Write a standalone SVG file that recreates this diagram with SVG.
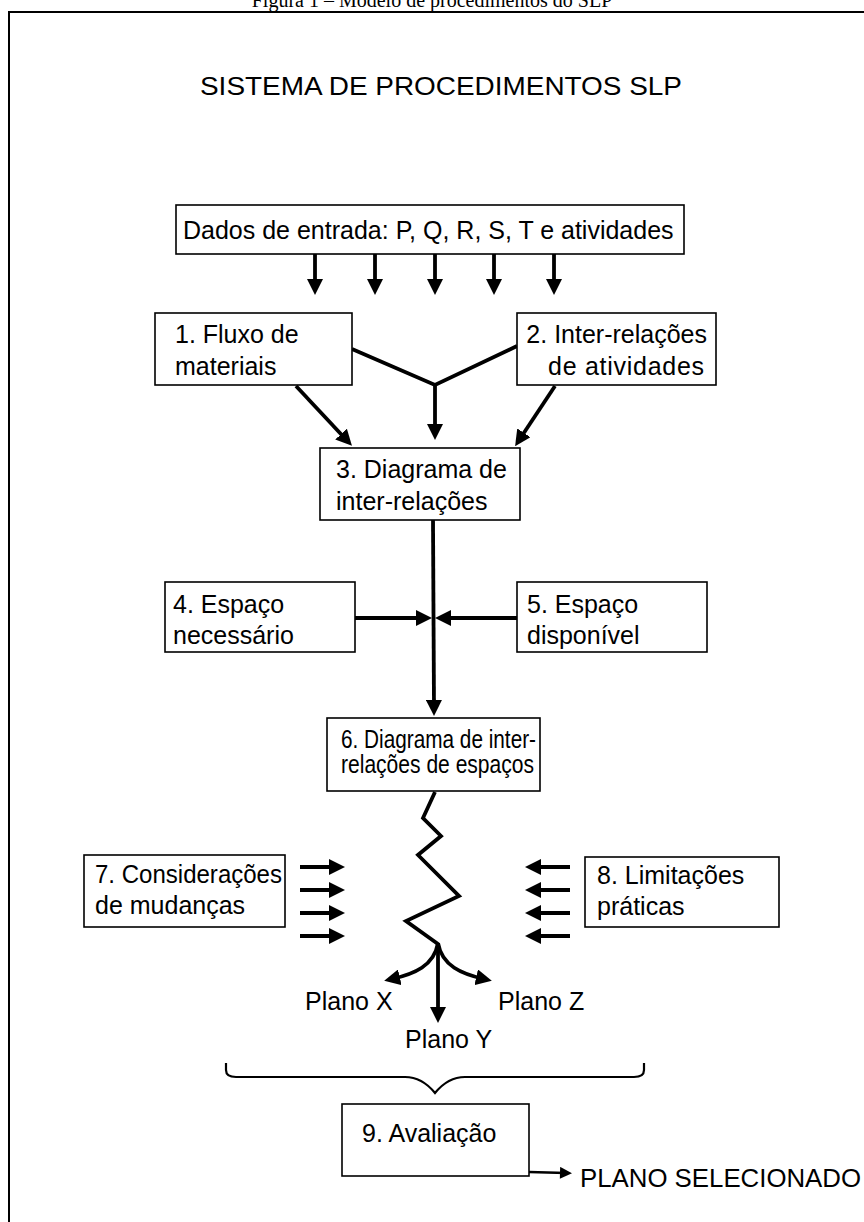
<svg xmlns="http://www.w3.org/2000/svg" width="864" height="1222" viewBox="0 0 864 1222">
<style>
.box{fill:#fff;stroke:#000;stroke-width:1.6}
.t{font-family:"Liberation Sans",Arial,sans-serif;font-size:25px;fill:#000}
.c{fill:none;stroke:#000;stroke-width:3.8}
</style>
<defs>
<marker id="ah" viewBox="0 0 10 10" refX="5" refY="5" markerWidth="16" markerHeight="16" markerUnits="userSpaceOnUse" orient="auto"><path d="M0,0 L10,5 L0,10 z" fill="#000"/></marker>
<marker id="ahs" viewBox="0 0 10 10" refX="5" refY="5" markerWidth="13" markerHeight="12" markerUnits="userSpaceOnUse" orient="auto"><path d="M0,0 L10,5 L0,10 z" fill="#000"/></marker>
</defs>
<rect width="864" height="1222" fill="#fff"/>
<text x="432" y="7" text-anchor="middle" font-family="Liberation Serif,serif" font-size="20">Figura 1 – Modelo de procedimentos do SLP</text>
<path d="M9,1224 V12 H866" fill="none" stroke="#000" stroke-width="2"/>
<text class="t" x="200" y="95" font-size="31" textLength="482" lengthAdjust="spacingAndGlyphs">SISTEMA DE PROCEDIMENTOS SLP</text>

<g id="connectors">
<line class="c" x1="315" y1="254" x2="315" y2="287" marker-end="url(#ah)"/>
<line class="c" x1="375" y1="254" x2="375" y2="287" marker-end="url(#ah)"/>
<line class="c" x1="435" y1="254" x2="435" y2="287" marker-end="url(#ah)"/>
<line class="c" x1="494" y1="254" x2="494" y2="287" marker-end="url(#ah)"/>
<line class="c" x1="554" y1="254" x2="554" y2="287" marker-end="url(#ah)"/>
<polyline class="c" points="352,349 435,385 517,346"/>
<line class="c" x1="435" y1="385" x2="435" y2="432" marker-end="url(#ah)"/>
<line class="c" x1="296" y1="386" x2="346.5" y2="440" marker-end="url(#ah)"/>
<line class="c" x1="555" y1="386" x2="519.5" y2="439.5" marker-end="url(#ah)"/>
<line class="c" x1="433" y1="520" x2="434" y2="708" marker-end="url(#ah)"/>
<line class="c" x1="355" y1="618" x2="424" y2="618" marker-end="url(#ah)"/>
<line class="c" x1="517" y1="618" x2="443" y2="618" marker-end="url(#ah)"/>
<polyline class="c" points="435,792 423,818 441,836 418,855 459,896 406,921 438,944"/>
<path class="c" d="M438,943 C434,966 414,974 392,979" marker-end="url(#ah)"/>
<path class="c" d="M438,943 C442,966 462,974 484,979" marker-end="url(#ah)"/>
<line class="c" x1="438" y1="943" x2="438" y2="1015" marker-end="url(#ah)"/>
<line class="c" x1="300" y1="867" x2="337" y2="867" marker-end="url(#ah)"/>
<line class="c" x1="300" y1="890" x2="337" y2="890" marker-end="url(#ah)"/>
<line class="c" x1="300" y1="913" x2="337" y2="913" marker-end="url(#ah)"/>
<line class="c" x1="300" y1="936" x2="337" y2="936" marker-end="url(#ah)"/>
<line class="c" x1="570" y1="867" x2="533" y2="867" marker-end="url(#ah)"/>
<line class="c" x1="570" y1="890" x2="533" y2="890" marker-end="url(#ah)"/>
<line class="c" x1="570" y1="913" x2="533" y2="913" marker-end="url(#ah)"/>
<line class="c" x1="570" y1="936" x2="533" y2="936" marker-end="url(#ah)"/>
<path d="M226,1063 V1070 Q226,1077 236,1077 H405 Q422,1077 435,1093 Q448,1077 465,1077 H634 Q644,1077 644,1070 V1063" fill="none" stroke="#000" stroke-width="2.2"/>
<line x1="529" y1="1172" x2="566" y2="1173" stroke="#000" stroke-width="2.6" marker-end="url(#ahs)"/>
</g>

<g id="entrada"><rect class="box" x="176" y="205" width="508" height="49"/><text class="t" x="183" y="239" font-size="26">Dados de entrada: P, Q, R, S, T e atividades</text></g>
<g id="n1"><rect class="box" x="155" y="313" width="197" height="72"/><text class="t" x="175" y="343">1. Fluxo de</text><text class="t" x="175" y="375">materiais</text></g>
<g id="n2"><rect class="box" x="517" y="313" width="199" height="72"/><text class="t" x="707" y="343" text-anchor="end">2. Inter-relações</text><text class="t" x="548" y="375" textLength="156">de atividades</text></g>
<g id="n3"><rect class="box" x="320" y="448" width="200" height="72"/><text class="t" x="336" y="478">3. Diagrama de</text><text class="t" x="336" y="510">inter-relações</text></g>
<g id="n4"><rect class="box" x="165" y="582" width="190" height="70"/><text class="t" x="173" y="613">4. Espaço</text><text class="t" x="173" y="644">necessário</text></g>
<g id="n5"><rect class="box" x="517" y="582" width="190" height="70"/><text class="t" x="527" y="613">5. Espaço</text><text class="t" x="527" y="644">disponível</text></g>
<g id="n6"><rect class="box" x="327" y="718" width="213" height="73"/><text class="t" x="341" y="748" font-size="15" textLength="195" lengthAdjust="spacingAndGlyphs">6. Diagrama de inter-</text><text class="t" x="341" y="773" font-size="15" textLength="193" lengthAdjust="spacingAndGlyphs">relações de espaços</text></g>
<g id="n7"><rect class="box" x="84" y="855" width="201" height="72"/><text class="t" x="95" y="883" font-size="22" textLength="187" lengthAdjust="spacingAndGlyphs">7. Considerações</text><text class="t" x="95" y="914" font-size="22">de mudanças</text></g>
<g id="n8"><rect class="box" x="585" y="857" width="194" height="70"/><text class="t" x="597" y="884">8. Limitações</text><text class="t" x="597" y="915">práticas</text></g>
<g id="planos"><text class="t" x="305" y="1010" font-size="22">Plano X</text><text class="t" x="498" y="1010" font-size="22">Plano Z</text><text class="t" x="405" y="1048" font-size="22">Plano Y</text></g>
<g id="n9"><rect class="box" x="342" y="1104" width="187" height="72"/><text class="t" x="362" y="1142" font-size="22.5">9. Avaliação</text></g>
<g id="sel"><text class="t" x="580" y="1187" font-size="25" textLength="281" lengthAdjust="spacingAndGlyphs">PLANO SELECIONADO</text></g>
</svg>
